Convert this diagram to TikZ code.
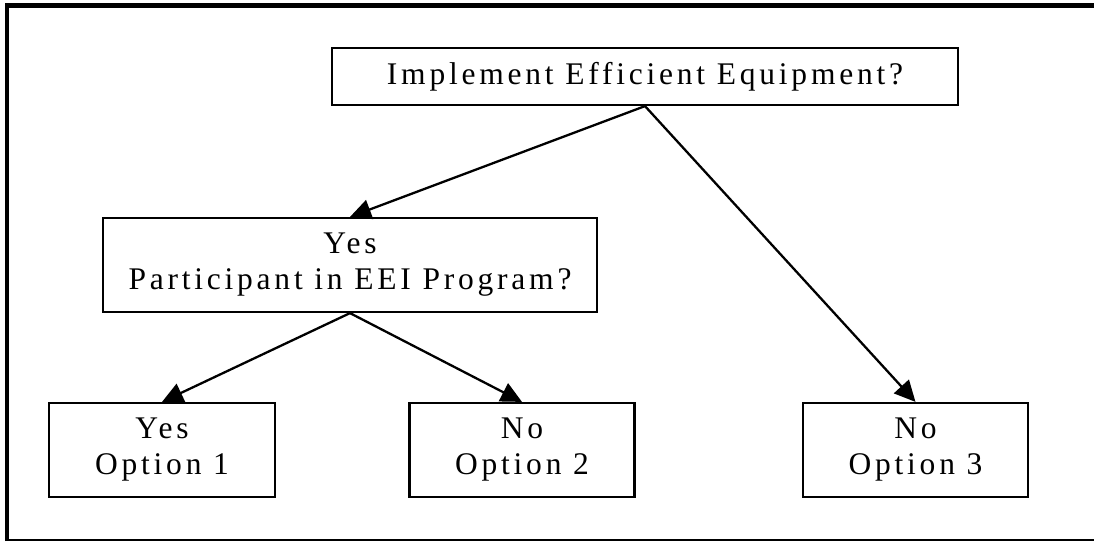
\documentclass[tikz,border=0pt]{standalone}
\usepackage{fontspec}
\setmainfont{Liberation Serif}
\newfontfamily\spacedserif[LetterSpace=12]{Liberation Serif}
\usetikzlibrary{arrows.meta}
\tikzset{
  box/.style={draw=black, line width=2.2pt, fill=white, align=center,
    inner sep=0pt, font=\spacedserif\fontsize{31.5}{36}\selectfont},
  arr/.style={line width=2.3pt, -{Triangle[length=21pt, width=20pt]}},
}
\begin{document}
\begin{tikzpicture}[x=1pt, y=-1pt]
  \useasboundingbox (0,0) rectangle (1094,541);
  % page frame: heavy left and top rules, light bottom rule
  \draw[line width=4.8pt] (7,541) -- (7,5.8) -- (1094,5.8);
  \draw[line width=1.4pt] (7,540) -- (1094,540);

  % decision boxes
  \node[box, minimum width=626pt, minimum height=57pt] (impl) at (645,76.5)
    {Implement Efficient Equipment?};
  \node[box, minimum width=494pt, minimum height=94pt] (part) at (350,265)
    {Yes\\Participant in EEI Program?};
  \node[box, minimum width=226pt, minimum height=94pt] (opt1) at (162,450)
    {Yes\\Option 1};
  \node[box, minimum width=225pt, minimum height=94pt] (opt2) at (522,450)
    {No\\Option 2};
  \node[box, minimum width=225pt, minimum height=94pt] (opt3) at (915.5,450)
    {No\\Option 3};

  % branches
  \draw[arr] (impl.south) -- (part.north);
  \draw[arr] (impl.south) -- (opt3.north);
  \draw[arr] (part.south) -- (opt1.north);
  \draw[arr] (part.south) -- (opt2.north);
\end{tikzpicture}
\end{document}
